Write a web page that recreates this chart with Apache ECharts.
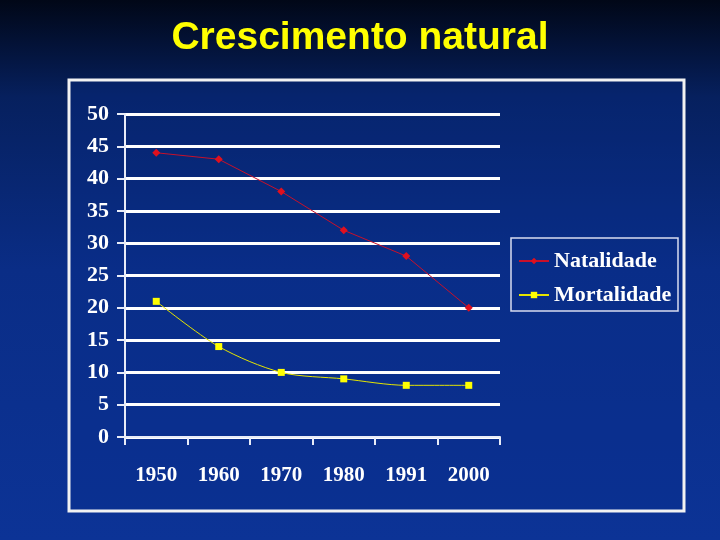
<!DOCTYPE html>
<html>
<head>
<meta charset="utf-8">
<script src="https://cdn.jsdelivr.net/npm/echarts@6/dist/echarts.min.js"></script>
<style>
  html, body { margin: 0; padding: 0; }
  #main { width: 720px; height: 540px; }
</style>
</head>
<body>
<div id="main"></div>
<script>
// dados do gráfico
var anos = ['1950', '1960', '1970', '1980', '1991', '2000'];
var natalidade = [44, 43, 38, 32, 28, 20];
var mortalidade = [21, 14, 10, 9, 8, 8];

var chart = echarts.init(document.getElementById('main'));
var serif = '"Liberation Serif", "DejaVu Serif", serif';

chart.setOption({
  backgroundColor: new echarts.graphic.LinearGradient(0, 0, 0, 1, [
    {offset: 0, color: '#010717'},
    {offset: 0.18, color: '#06205e'},
    {offset: 0.5, color: '#0a2d86'},
    {offset: 1, color: '#0c3396'}
  ]),
  title: {
    text: 'Crescimento natural',
    left: 'center',
    top: 14,
    textStyle: {
      color: '#ffff00',
      fontFamily: '"Liberation Sans", Arial, sans-serif',
      fontWeight: 'bold',
      fontSize: 39
    }
  },
  graphic: [
    {
      type: 'rect',
      shape: {x: 69, y: 80, width: 615, height: 431},
      style: {fill: 'rgba(10,45,140,0.35)', stroke: '#f2f2f2', lineWidth: 3},
      z: -1
    },
    {
      type: 'rect',
      shape: {x: 511, y: 238, width: 167, height: 73},
      style: {fill: 'none', stroke: '#d8dcf0', lineWidth: 1.5},
      z: 1
    }
  ],
  legend: {
    orient: 'vertical',
    left: 513,
    top: 245,
    itemGap: 12,
    itemWidth: 30,
    itemHeight: 8,
    textStyle: {
      color: '#ffffff',
      fontFamily: serif,
      fontWeight: 'bold',
      fontSize: 22
    },
    data: ['Natalidade', 'Mortalidade']
  },
  grid: {
    left: 125,
    right: 220,
    top: 114,
    bottom: 103
  },
  xAxis: {
    type: 'category',
    data: anos,
    boundaryGap: true,
    axisLine: {lineStyle: {color: '#e8ecf8', width: 2}},
    axisTick: {show: true, length: 8, lineStyle: {color: '#e8ecf8', width: 2}},
    axisLabel: {
      margin: 28,
      color: '#ffffff',
      fontFamily: serif,
      fontWeight: 'bold',
      fontSize: 21
    }
  },
  yAxis: {
    type: 'value',
    min: 0,
    max: 50,
    interval: 5,
    axisLine: {show: true, lineStyle: {color: '#e8ecf8', width: 2}},
    axisTick: {show: true, length: 8, lineStyle: {color: '#e8ecf8', width: 2}},
    splitLine: {lineStyle: {color: '#ffffff', width: 3}},
    axisLabel: {
      margin: 16,
      color: '#ffffff',
      fontFamily: serif,
      fontWeight: 'bold',
      fontSize: 22
    }
  },
  series: [
    {
      name: 'Natalidade',
      type: 'line',
      data: natalidade,
      smooth: false,
      symbol: 'diamond',
      symbolSize: 8,
      lineStyle: {color: '#c8102a', width: 1},
      itemStyle: {color: '#e0101e'},
      z: 3
    },
    {
      name: 'Mortalidade',
      type: 'line',
      data: mortalidade,
      smooth: 0.3,
      symbol: 'rect',
      symbolSize: 7,
      lineStyle: {color: '#e5e500', width: 1},
      itemStyle: {color: '#ffff00'},
      z: 3
    }
  ]
});
</script>
</body>
</html>
